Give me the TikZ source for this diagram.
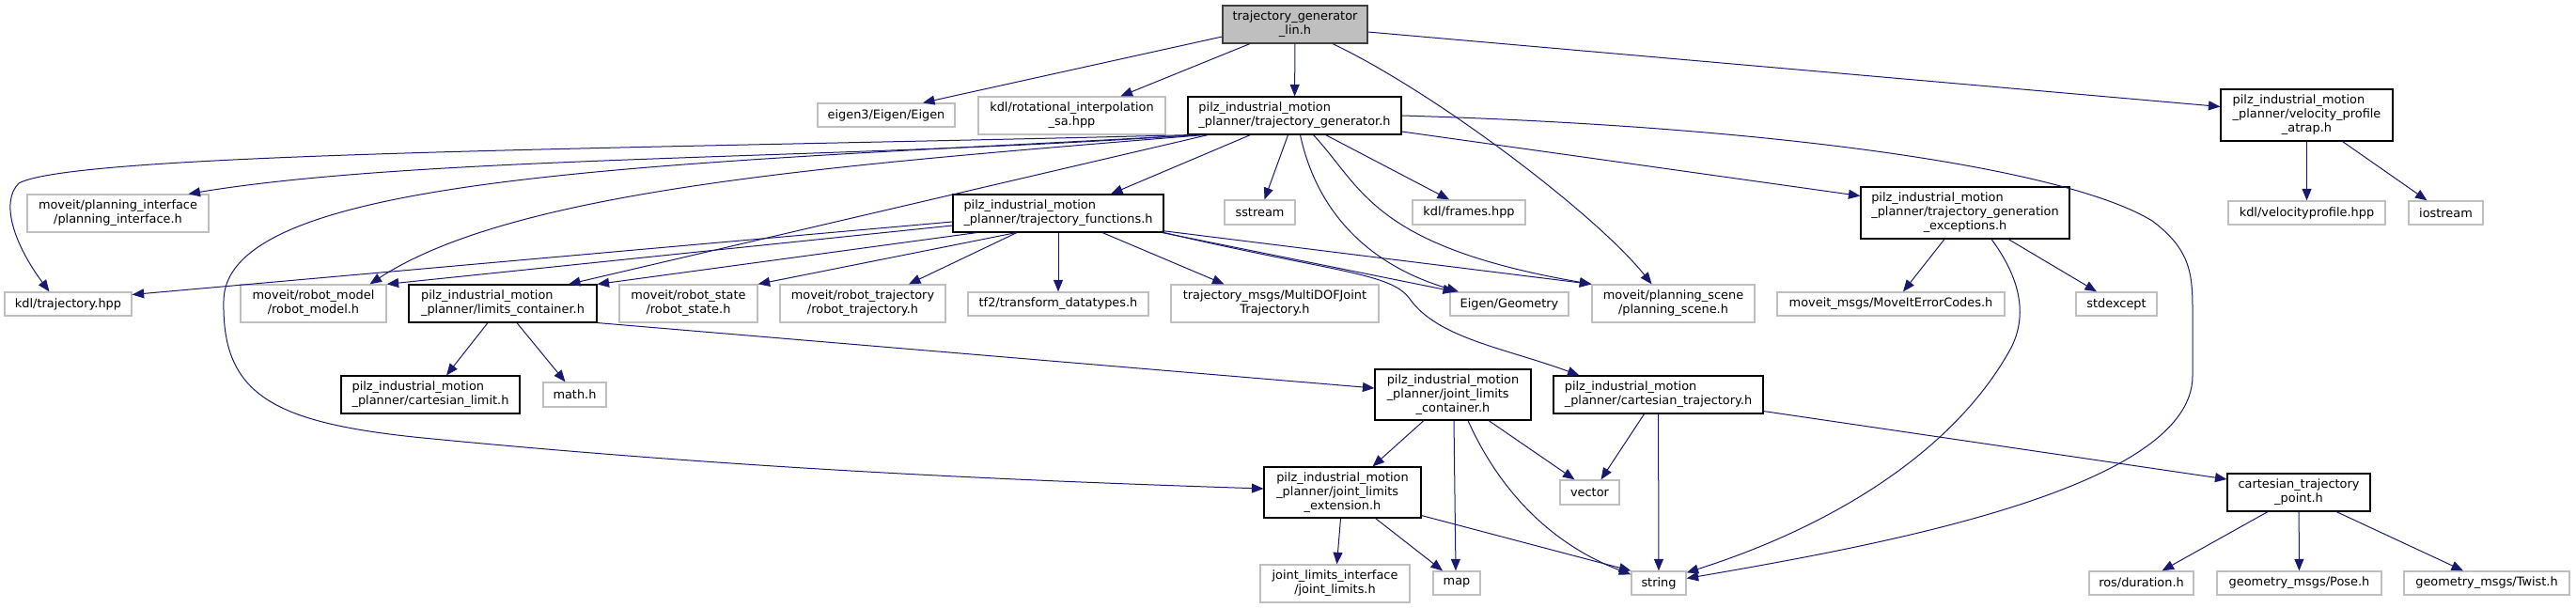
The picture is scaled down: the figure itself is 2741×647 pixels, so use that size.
\documentclass[tikz,border=0pt]{standalone}
\usepackage{fontspec}
\setmainfont{DejaVu Sans}
\usepackage{xcolor}
\usepackage{tikz}
\usetikzlibrary{arrows.meta, positioning, calc}
\definecolor{edgeblue}{HTML}{191970}
\definecolor{boxgray}{HTML}{BFBFBF}
\definecolor{rootline}{HTML}{404040}
% labels: all lines centred, or first lines flush left and the last one centred
\newcommand{\lblc}[1]{\begin{tabular}{@{}c@{}}#1\end{tabular}}
\newcommand{\lbll}[2]{\begin{tabular}{@{}l@{}}#1\\\multicolumn{1}{@{}c@{}}{#2}\end{tabular}}

\begin{document}
\begin{tikzpicture}[
    x=1pt, y=-1pt,
    every node/.style={font=\fontsize{12.9}{15}\selectfont, inner sep=0pt},
    mainfile/.style={rectangle, draw=rootline, line width=1.1pt, fill=boxgray},
    docfile/.style={rectangle, draw=black, line width=1.1pt, fill=white},
    extfile/.style={rectangle, draw=boxgray, line width=1.3pt, fill=white},
    dep/.style={-{Triangle[length=12.5pt,width=10pt]}, line width=1pt, draw=edgeblue}
]
\useasboundingbox (0,0) rectangle (2741,647);

% Files
\node[mainfile, minimum width=154, minimum height=40] (root) at (1378,26) {\lblc{trajectory\_generator\\\_lin.h}};
\node[extfile, minimum width=146, minimum height=25] (eigen) at (943,122.5) {eigen3/Eigen/Eigen};
\node[extfile, minimum width=199, minimum height=40] (kdlrot) at (1140.5,123) {\lblc{kdl/rotational\_interpolation\\\_sa.hpp}};
\node[docfile, minimum width=227, minimum height=40] (tg) at (1377.5,123) {\lbll{pilz\_industrial\_motion}{\_planner/trajectory\_generator.h}};
\node[docfile, minimum width=183, minimum height=55] (velo) at (2454.5,122.5) {\lbll{pilz\_industrial\_motion\\\_planner/velocity\_profile}{\_atrap.h}};

\node[extfile, minimum width=193, minimum height=40] (planint) at (125.5,227) {\lblc{moveit/planning\_interface\\/planning\_interface.h}};
\node[docfile, minimum width=224, minimum height=40] (tf) at (1126,227) {\lbll{pilz\_industrial\_motion}{\_planner/trajectory\_functions.h}};
\node[extfile, minimum width=75, minimum height=26] (sstream) at (1340.5,226) {sstream};
\node[extfile, minimum width=120, minimum height=26] (frames) at (1563,226) {kdl/frames.hpp};
\node[docfile, minimum width=222, minimum height=55] (exc) at (2091,226.5) {\lbll{pilz\_industrial\_motion\\\_planner/trajectory\_generation}{\_exceptions.h}};
\node[extfile, minimum width=167, minimum height=25] (velprof) at (2454.5,226.5) {kdl/velocityprofile.hpp};
\node[extfile, minimum width=79, minimum height=25] (iostream) at (2602.5,226.5) {iostream};

\node[extfile, minimum width=135, minimum height=25] (kdltraj) at (72.5,323.5) {kdl/trajectory.hpp};
\node[extfile, minimum width=155, minimum height=40] (robmodel) at (333.5,323) {\lblc{moveit/robot\_model\\/robot\_model.h}};
\node[docfile, minimum width=200, minimum height=40] (limits) at (535,323) {\lbll{pilz\_industrial\_motion}{\_planner/limits\_container.h}};
\node[extfile, minimum width=147, minimum height=40] (robstate) at (732.5,323) {\lblc{moveit/robot\_state\\/robot\_state.h}};
\node[extfile, minimum width=176, minimum height=40] (robtraj) at (918,323) {\lblc{moveit/robot\_trajectory\\/robot\_trajectory.h}};
\node[extfile, minimum width=192, minimum height=25] (tf2) at (1126,323.5) {tf2/transform\_datatypes.h};
\node[extfile, minimum width=221, minimum height=40] (multidof) at (1356.5,323) {\lblc{trajectory\_msgs/MultiDOFJoint\\Trajectory.h}};
\node[extfile, minimum width=126, minimum height=25] (eigeom) at (1606,323.5) {Eigen/Geometry};
\node[extfile, minimum width=173, minimum height=40] (planscene) at (1780.5,323) {\lblc{moveit/planning\_scene\\/planning\_scene.h}};
\node[extfile, minimum width=242, minimum height=25] (errcodes) at (2012,323.5) {moveit\_msgs/MoveItErrorCodes.h};
\node[extfile, minimum width=86, minimum height=25] (stdexcept) at (2252,323.5) {stdexcept};

\node[docfile, minimum width=190, minimum height=40] (cartlim) at (458,420) {\lbll{pilz\_industrial\_motion}{\_planner/cartesian\_limit.h}};
\node[extfile, minimum width=67, minimum height=26] (math) at (611.5,420) {math.h};
\node[docfile, minimum width=166, minimum height=54] (jlc) at (1546,420) {\lbll{pilz\_industrial\_motion\\\_planner/joint\_limits}{\_container.h}};
\node[docfile, minimum width=223, minimum height=40] (carttraj) at (1764.5,420) {\lbll{pilz\_industrial\_motion}{\_planner/cartesian\_trajectory.h}};

\node[docfile, minimum width=167, minimum height=54] (jle) at (1428.5,524) {\lbll{pilz\_industrial\_motion\\\_planner/joint\_limits}{\_extension.h}};
\node[extfile, minimum width=63, minimum height=26] (vector) at (1691.5,524) {vector};
\node[docfile, minimum width=152, minimum height=40] (ctp) at (2446,524) {\lblc{cartesian\_trajectory\\\_point.h}};

\node[extfile, minimum width=159, minimum height=40] (jli) at (1420.5,621) {\lblc{joint\_limits\_interface\\/joint\_limits.h}};
\node[extfile, minimum width=50, minimum height=25] (map) at (1550,620.5) {map};
\node[extfile, minimum width=58, minimum height=25] (string) at (1765,620.5) {string};
\node[extfile, minimum width=111, minimum height=25] (rosdur) at (2278.5,620.5) {ros/duration.h};
\node[extfile, minimum width=175, minimum height=25] (pose) at (2446.5,620.5) {geometry\_msgs/Pose.h};
\node[extfile, minimum width=176, minimum height=25] (twist) at (2646,620.5) {geometry\_msgs/Twist.h};

% Includes of trajectory_generator_lin.h
\draw[dep] ([yshift=-13]root.west) -- ([xshift=39]eigen.north);
\draw[dep] ([xshift=-48]root.south) -- ([xshift=52]kdlrot.north);
\draw[dep] (root) -- (tg);
\draw[dep] ([xshift=40]root.south) .. controls (1530,100) and (1700,230) .. ([xshift=-23]planscene.north);
\draw[dep] ([yshift=-8]root.east) -- ([yshift=9]velo.west);

% Includes of trajectory_generator.h
\draw[dep] ([xshift=4]tg.south west) .. controls (700,158) and (80,162) .. (20,195) .. controls (0,215) and (15,260) .. ([xshift=-20]kdltraj.north);
\draw[dep] ([xshift=8]tg.south west) .. controls (900,170) and (450,165) .. ([xshift=75]planint.north);
\draw[dep] ([xshift=14]tg.south west) .. controls (700,175) and (240,185) .. (238,320) .. controls (236,420) and (290,450) .. (450,466) .. controls (800,500) and (1100,512) .. ([yshift=4]jle.west);
\draw[dep] ([xshift=18]tg.south west) .. controls (900,175) and (550,200) .. ([xshift=60]robmodel.north);
\draw[dep] ([xshift=22]tg.south west) -- ([xshift=70]limits.north);
\draw[dep] ([xshift=-47]tg.south) -- ([xshift=56]tf.north);
\draw[dep] ([xshift=-7]tg.south) -- ([xshift=5]sstream.north);
\draw[dep] ([xshift=6]tg.south) .. controls (1400,220) and (1450,280) .. ([xshift=-54]eigeom.north);
\draw[dep] ([xshift=20]tg.south) .. controls (1450,200) and (1460,262) .. (planscene.north west);
\draw[dep] ([xshift=33]tg.south) -- ([xshift=-21]frames.north);
\draw[dep] ([yshift=-17]tg.east) -- ([yshift=18]exc.west);
\draw[dep] (tg.east) .. controls (1900,135) and (2200,180) .. (2290,235) .. controls (2330,265) and (2333,290) .. (2333,330) -- (2333,400) .. controls (2333,520) and (2000,580) .. ([yshift=5]string.east);

% Includes of trajectory_functions.h
\draw[dep] ([yshift=-9]tf.west) -- ([yshift=10]kdltraj.east);
\draw[dep] ([yshift=-13]tf.west) -- (robmodel.north east);
\draw[dep] ([xshift=26]tf.south west) -- (limits.north east);
\draw[dep] ([xshift=68]tf.south west) -- (robstate.north east);
\draw[dep] ([xshift=-44]tf.south) -- ([xshift=49]robtraj.north);
\draw[dep] (tf) -- (tf2);
\draw[dep] ([xshift=47]tf.south) -- ([xshift=-54]multidof.north);
\draw[dep] ([xshift=-2]tf.south east) -- ([xshift=-58]eigeom.north);
\draw[dep] ([xshift=-2,yshift=2]tf.south east) -- (planscene.north west);
\draw[dep] (tf.south east) .. controls (1420,290) and (1480,290) .. (1500,318) .. controls (1530,360) and (1600,370) .. ([xshift=-84]carttraj.north);

% Includes of trajectory_generation_exceptions.h
\draw[dep] ([xshift=-22]exc.south) -- ([xshift=13]errcodes.north);
\draw[dep] ([xshift=46]exc.south) -- ([xshift=-21]stdexcept.north);
\draw[dep] ([xshift=28]exc.south) .. controls (2145,290) and (2160,330) .. (2140,370) .. controls (2080,480) and (1950,560) .. ([yshift=-2]string.north east);

% Includes of velocity_profile_atrap.h
\draw[dep] (velo) -- (velprof);
\draw[dep] ([xshift=38]velo.south) -- ([xshift=-20]iostream.north);

% Includes of limits_container.h
\draw[dep] ([xshift=-16]limits.south) -- ([xshift=17]cartlim.north);
\draw[dep] ([xshift=15]limits.south) -- ([xshift=-10]math.north);
\draw[dep] (limits.south east) -- ([yshift=7]jlc.west);

% Includes of joint_limits_container.h
\draw[dep] ([xshift=-31]jlc.south) -- ([xshift=32]jle.north);
\draw[dep] ([xshift=1]jlc.south) -- ([xshift=-1]map.north);
\draw[dep] ([xshift=16]jlc.south) .. controls (1590,510) and (1640,575) .. ([yshift=-4]string.north west);
\draw[dep] ([xshift=38]jlc.south) -- ([xshift=-16]vector.north);

% Includes of joint_limits_extension.h
\draw[dep] ([xshift=-2]jle.south) -- ([xshift=2]jli.north);
\draw[dep] ([xshift=35]jle.south) -- ([xshift=-15]map.north);
\draw[dep] ([yshift=3]jle.south east) -- (string.north west);

% Includes of cartesian_trajectory.h
\draw[dep] ([xshift=-15]carttraj.south) -- ([xshift=12]vector.north);
\draw[dep] (carttraj) -- (string);
\draw[dep] ([yshift=3]carttraj.south east) -- ([yshift=14]ctp.west);

% Includes of cartesian_trajectory_point.h
\draw[dep] ([xshift=-33]ctp.south) -- ([xshift=22]rosdur.north);
\draw[dep] (ctp) -- (pose);
\draw[dep] ([xshift=40]ctp.south) -- ([xshift=-25]twist.north);

\end{tikzpicture}
\end{document}
